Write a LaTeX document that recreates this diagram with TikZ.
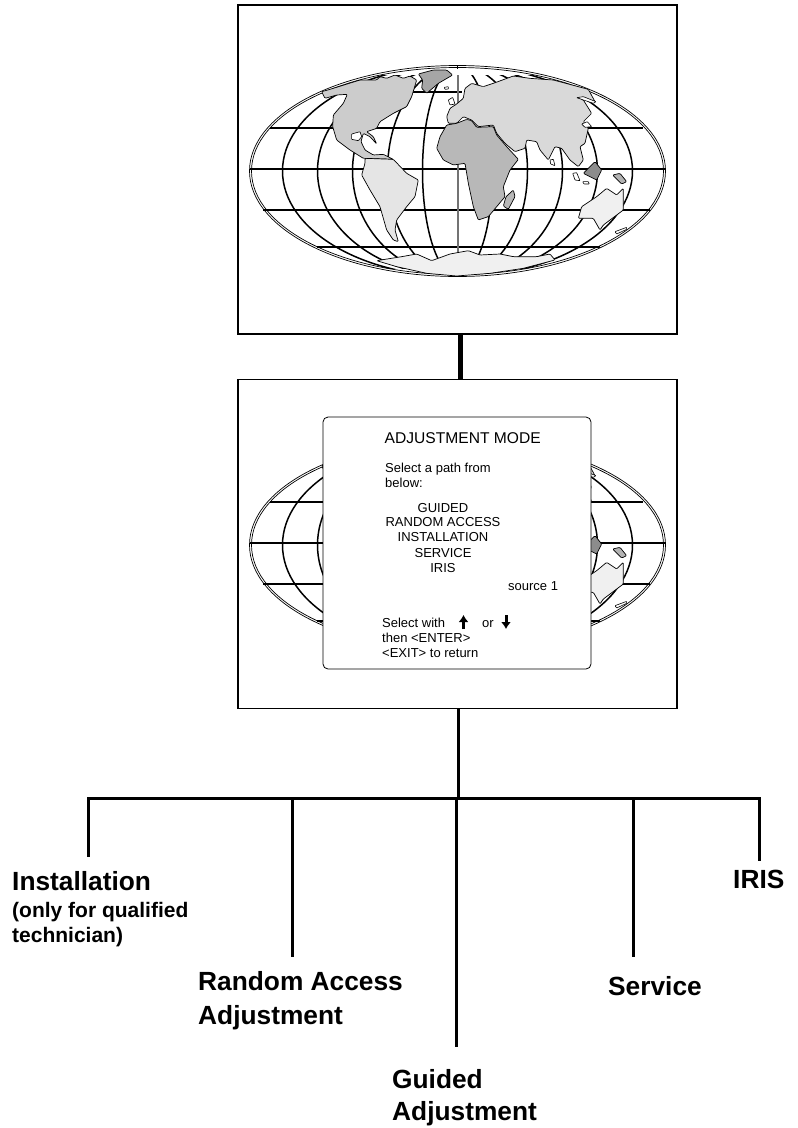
\documentclass[tikz,border=0pt]{standalone}
\usepackage{fontspec}
\setmainfont{Liberation Sans}
\usetikzlibrary{arrows.meta,positioning}

\tikzset{
	screen/.style={draw=black,fill=none,line width=1.6pt,inner sep=0pt,minimum width=439pt,minimum height=329pt},
	menubox/.style={draw=black,fill=white,line width=0.8pt,rounded corners=5pt,inner sep=0pt,minimum width=268pt,minimum height=252pt},
	menutext/.style={font=\fontsize{13}{13}\selectfont,inner sep=0pt,anchor=base west},
	menumid/.style={font=\fontsize{13}{13}\selectfont,inner sep=0pt,anchor=base},
	bigtext/.style={font=\fontsize{26.3}{26}\selectfont\bfseries,inner sep=0pt,anchor=base west},
	smalltext/.style={font=\fontsize{21}{21}\selectfont\bfseries,inner sep=0pt,anchor=base west},
	land/.style={draw=black,line width=0.7pt,line join=round,rounded corners=1pt},
	isle/.style={draw=black,fill=white,line width=0.6pt,line join=round,rounded corners=0.5pt},
	grid line/.style={line width=1.5pt},
	branch/.style={line width=3pt}
}

\newcommand{\worldmap}[1]{
	\begin{scope}[shift={(0,#1)}]
		\begin{scope}
			\clip (240,75) rectangle (675,268);
			\foreach \rx in {35,70,105,140,175}
				\draw[grid line] (457.5,171) circle [x radius=\rx, y radius=105.5];
		\end{scope}
		\draw[grid line] (413,92) -- (462,92);
		\draw[grid line] (270,128) -- (643,128);
		\draw[grid line] (249.5,169) -- (665.5,169);
		\draw[grid line] (263,210) -- (650,210);
		\draw[grid line] (317,247) -- (600,247);
		\draw[line width=2.6pt,black!55] (458,75) -- (458,258);
		\draw[line width=0.7pt] (457.5,171) circle [x radius=208, y radius=105.5];
		\draw[line width=0.7pt] (457.5,171) circle [x radius=206, y radius=103.5];
		\draw[line width=0.6pt] (457.5,65.5) -- (457.5,69);
		\draw[line width=0.6pt] (457.5,273) -- (457.5,276.5);
		\begin{scope}[shift={(230,0)},xscale=1/3,yscale=1/3]
			\draw[land,fill=black!20] (275,275) -- (300,268) -- (390,240) -- (440,240) -- (450,230) -- (470,235) -- (495,225) -- (520,235) -- (540,228) -- (560,240) -- (545,290) -- (530,320) -- (490,340) -- (450,365) -- (440,385) -- (410,395) -- (430,410) -- (440,432) -- (420,410) -- (400,400) -- (393,425) -- (405,450) -- (430,465) -- (460,463) -- (490,478) -- (400,475) -- (360,450) -- (320,420) -- (308,380) -- (310,345) -- (340,310) -- (352,283) -- (320,285) -- (285,295) -- cycle;
			\draw[isle] (365,402) -- (390,395) -- (395,410) -- (385,422) -- (365,418) -- cycle;
			\draw[land,fill=black!35] (565,222) -- (610,210) -- (650,210) -- (668,225) -- (625,250) -- (590,280) -- (575,265) -- (578,240) -- cycle;
			\draw[land,fill=black!15] (650,350) -- (660,325) -- (680,312) -- (700,295) -- (705,265) -- (725,250) -- (760,260) -- (790,250) -- (850,228) -- (900,235) -- (970,240) -- (1075,268) -- (1095,305) -- (1045,292) -- (1060,300) -- (1085,340) -- (1060,365) -- (1075,385) -- (1065,430) -- (1050,440) -- (1060,480) -- (1045,500) -- (1020,480) -- (995,445) -- (975,440) -- (955,480) -- (930,450) -- (920,425) -- (890,420) -- (885,445) -- (855,455) -- (825,430) -- (800,400) -- (790,375) -- (745,380) -- (725,360) -- (700,350) -- (680,370) -- (655,370) -- cycle;
			\draw[land,fill=black!28] (620,445) -- (630,410) -- (650,375) -- (680,370) -- (710,358) -- (725,362) -- (740,382) -- (790,380) -- (800,405) -- (830,440) -- (865,478) -- (840,510) -- (820,560) -- (825,590) -- (800,620) -- (775,650) -- (745,660) -- (730,620) -- (715,550) -- (705,490) -- (670,495) -- (640,480) -- cycle;
			\draw[land,fill=black!10] (405,475) -- (490,478) -- (530,520) -- (565,540) -- (555,590) -- (530,620) -- (500,660) -- (495,690) -- (505,725) -- (490,720) -- (470,690) -- (450,620) -- (420,570) -- (395,525) -- (405,490) -- cycle;
			\draw[land,fill=black!28] (850,570) -- (855,590) -- (835,628) -- (820,618) -- (828,590) -- cycle;
			\draw[land,fill=black!45] (1060,520) -- (1095,485) -- (1115,510) -- (1100,540) -- cycle;
			\draw[land,fill=black!30] (1148,525) -- (1170,520) -- (1190,545) -- (1175,552) -- cycle;
			\draw[land,fill=black!6] (1180,565) -- (1180,630) -- (1120,675) -- (1110,690) -- (1090,655) -- (1045,655) -- (1055,620) -- (1100,590) -- (1130,565) -- (1160,585) -- cycle;
			\draw[land,fill=black!6] (440,782) -- (515,770) -- (560,762) -- (605,782) -- (660,762) -- (715,752) -- (750,765) -- (810,762) -- (850,770) -- (920,770) -- (960,762) -- (975,780) -- (880,805) -- (780,820) -- (680,828) -- (590,820) -- (500,800) -- cycle;
			\draw[isle] (643,262) -- (655,260) -- (655,267) -- (645,268) -- cycle;
			\draw[isle] (655,300) -- (668,292) -- (675,312) -- (660,315) -- cycle;
			\draw[isle] (1040,293) -- (1060,290) -- (1098,305) -- (1090,310) -- cycle;
			\draw[isle] (1055,372) -- (1072,365) -- (1085,380) -- (1065,382) -- cycle;
			\draw[isle] (960,480) -- (970,478) -- (975,497) -- (962,492) -- cycle;
			\draw[isle] (1028,520) -- (1040,518) -- (1050,542) -- (1035,540) -- cycle;
			\draw[isle] (1058,545) -- (1075,545) -- (1078,552) -- (1062,552) -- cycle;
			\draw[isle] (1155,695) -- (1190,682) -- (1190,688) -- (1160,702) -- cycle;
		\end{scope}
	\end{scope}
}

\begin{document}
\begin{tikzpicture}[x=1pt,y=-1pt]
	\useasboundingbox (0,0) rectangle (798,1128);

	\worldmap{0}
	\worldmap{374}

	\node[screen] (upperscreen) at (457.5,169.5) {};
	\node[screen] (lowerscreen) at (457.5,544) {};
	\node[menubox] (menu) at (457,543) {};

	\node[menutext,font=\fontsize{15.6}{16}\selectfont] (title) at (384.5,443) {ADJUSTMENT MODE};
	\node[menutext] (pathone) at (385,472) {Select a path from};
	\node[menutext] (pathtwo) at (385,487) {below:};
	\node[menumid] (guided) at (443,512) {GUIDED};
	\node[menumid] (random) at (443,526) {RANDOM ACCESS};
	\node[menumid] (install) at (443,541) {INSTALLATION};
	\node[menumid] (service) at (443,557) {SERVICE};
	\node[menumid] (iris) at (443,572) {IRIS};
	\node[menutext] (source) at (508,590) {source 1};
	\node[menutext] (selectwith) at (382,627) {Select with};
	\node[menutext] (orword) at (482,627) {or};
	\node[menutext] (enter) at (382,642) {then <ENTER>};
	\node[menutext] (exit) at (382,657) {<EXIT> to return};

	\coordinate (uptail) at (463.5,629);
	\coordinate (uphead) at (463.5,615);
	\coordinate (downtail) at (506,615);
	\coordinate (downhead) at (506,629);
	\draw[line width=3pt,-{Latex[length=7pt,width=10pt]}] (uptail) -- (uphead);
	\draw[line width=3pt,-{Latex[length=7pt,width=10pt]}] (downtail) -- (downhead);

	\node[bigtext] (installation) at (12,890) {Installation};
	\node[smalltext] (qualified) at (12,917) {(only for qualified};
	\node[smalltext] (technician) at (12,942) {technician)};
	\node[bigtext] (randomone) at (198,990) {Random Access};
	\node[bigtext] (randomtwo) at (198,1024) {Adjustment};
	\node[bigtext] (guidedone) at (392,1088) {Guided};
	\node[bigtext] (guidedtwo) at (392,1120) {Adjustment};
	\node[bigtext] (servicetext) at (608,995) {Service};
	\node[bigtext] (iristext) at (733,888) {IRIS};

	\coordinate (busstem) at (458,798.5);
	\coordinate (businstall) at (88,798.5);
	\coordinate (busrandom) at (292,798.5);
	\coordinate (busguided) at (456,798.5);
	\coordinate (busservice) at (633,798.5);
	\coordinate (busiris) at (759,798.5);
	\coordinate (endinstall) at (88,857);
	\coordinate (endrandom) at (292,957);
	\coordinate (endguided) at (456,1047);
	\coordinate (endservice) at (633,957);
	\coordinate (endiris) at (759,861);

	\draw[line width=5pt] (upperscreen.south -| 460,0) -- (lowerscreen.north -| 460,0);
	\draw[branch] (lowerscreen.south -| busstem) -- (busstem);
	\draw[branch,line cap=rect] (businstall) -- (busiris);
	\path[branch,draw] (businstall) -- (endinstall)
		(busrandom) -- (endrandom)
		(busguided) -- (endguided)
		(busservice) -- (endservice)
		(busiris) -- (endiris);
\end{tikzpicture}
\end{document}
